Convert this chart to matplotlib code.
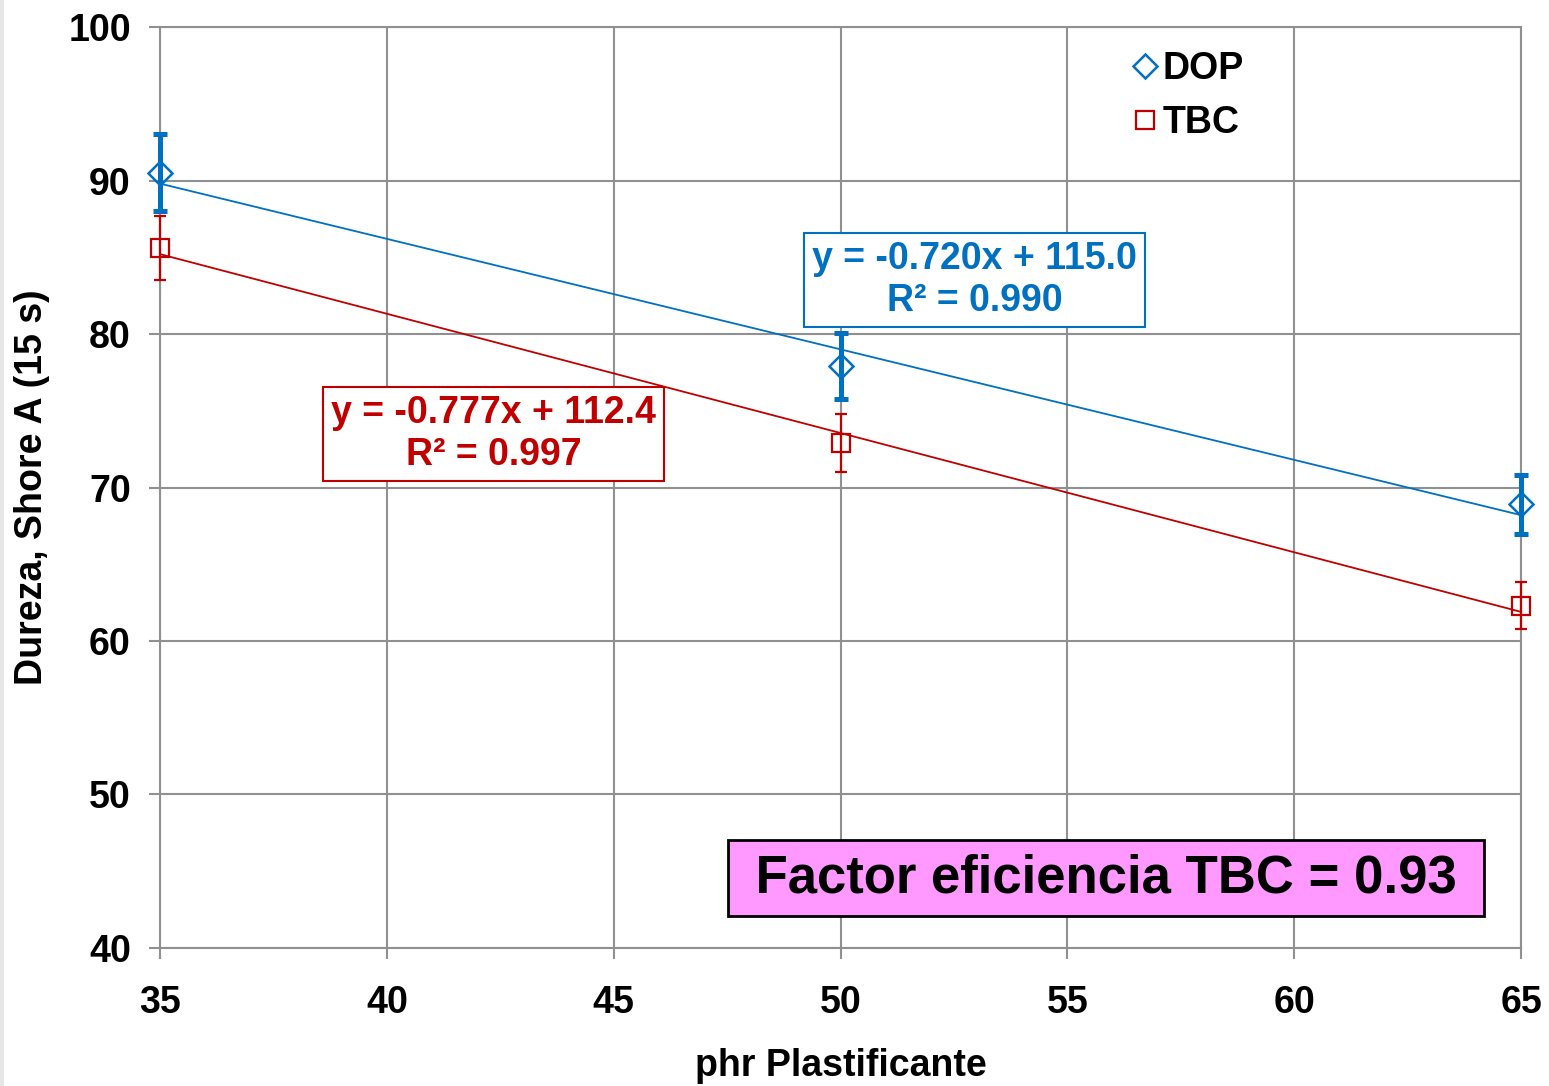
import matplotlib
matplotlib.use("Agg")
import matplotlib.pyplot as plt
from matplotlib.patches import Rectangle
import numpy as np

plt.rcParams['font.family'] = ['Liberation Sans', 'DejaVu Sans']
plt.rcParams['font.weight'] = 'bold'

# datos
phr = [35, 50, 65]
dop = [90.5, 77.9, 68.9]
dop_err = [2.5, 2.15, 1.9]
tbc = [85.6, 72.9, 62.3]
tbc_err = [2.1, 1.9, 1.55]
dop_fit = (-0.720, 115.0)
tbc_fit = (-0.777, 112.4)
blue = '#0070C0'
red = '#C00000'

fig = plt.figure(figsize=(15.49, 10.86), dpi=100)
fig.patches.append(Rectangle((0, 0), 4 / 1549, 1, transform=fig.transFigure,
                             fc='#E6E6E6', ec='none'))
ax = fig.add_axes([0.1033, 0.1271, 0.8787, 0.848])

# lineas de tendencia
xx = np.array([35, 65])
ax.plot(xx, dop_fit[0] * xx + dop_fit[1], color=blue, lw=1.3, zorder=3)
ax.plot(xx, tbc_fit[0] * xx + tbc_fit[1], color=red, lw=1.3, zorder=3)

e1 = ax.errorbar(phr, dop, yerr=dop_err, fmt='none', ecolor=blue, elinewidth=3.6,
                 capsize=4.7, capthick=3.6, zorder=4)
e2 = ax.errorbar(phr, tbc, yerr=tbc_err, fmt='none', ecolor=red, elinewidth=1.6,
                 capsize=4.5, capthick=1.6, zorder=4)
for e in (e1, e2):
    for art in e.lines[1] + e.lines[2]:
        art.set_clip_on(False)
ax.plot(phr, dop, ls='none', marker='D', ms=12.5, mfc='none', mec=blue, mew=1.8,
        label='DOP', zorder=5, clip_on=False)
ax.plot(phr, tbc, ls='none', marker='s', ms=13.5, mfc='none', mec=red, mew=1.6,
        label='TBC', zorder=5, clip_on=False)

ax.set_xlim(35, 65)
ax.set_ylim(40, 100)
ax.set_xticks(range(35, 66, 5))
ax.set_yticks(range(40, 101, 10))
ax.grid(True, color='#909090', lw=1.5)
ax.set_axisbelow(True)
for s in ax.spines.values():
    s.set_color('#909090')
    s.set_linewidth(1.5)
ax.tick_params(colors='#909090', labelcolor='black', labelsize=27, width=1.5,
               length=8)
ax.tick_params(axis='x', pad=19)
ax.tick_params(axis='y', pad=13)
for lb in ax.get_xticklabels() + ax.get_yticklabels():
    lb.set_fontweight('bold')

ax.set_xlabel('phr Plastificante', fontsize=27, fontweight='bold')
ax.set_ylabel('Dureza, Shore A (15 s)', fontsize=27, fontweight='bold')
ax.xaxis.set_label_coords(0.5, -0.128)
ax.xaxis.label.set_va('center')
ax.yaxis.set_label_coords(-0.094, 0.5)
ax.yaxis.label.set_va('center')

leg = ax.legend(loc='upper left', bbox_to_anchor=(0.711, 0.9735), frameon=False,
                handletextpad=0.03, handlelength=0.9, labelspacing=0.46,
                borderpad=0, borderaxespad=0,
                prop={'weight': 'bold', 'size': 27})

ax.text(52.95, 83.5, 'y = -0.720x + 115.0\nR² = 0.990', color=blue, fontsize=27,
        fontweight='bold', ha='center', va='center', linespacing=1.2,
        bbox=dict(boxstyle='square,pad=0.22', fc='white', ec=blue, lw=1.5), zorder=6)
ax.text(42.35, 73.5, 'y = -0.777x + 112.4\nR² = 0.997', color=red, fontsize=27,
        fontweight='bold', ha='center', va='center', linespacing=1.2,
        bbox=dict(boxstyle='square,pad=0.22', fc='white', ec=red, lw=1.5), zorder=6)
ax.text(55.85, 44.55, ' Factor eficiencia TBC = 0.93 ', color='black', fontsize=38,
        fontweight='bold', ha='center', va='center',
        bbox=dict(boxstyle='square,pad=0.25', fc='#FF99FF', ec='black', lw=2), zorder=6)

fig.savefig('out.png', dpi=100)
